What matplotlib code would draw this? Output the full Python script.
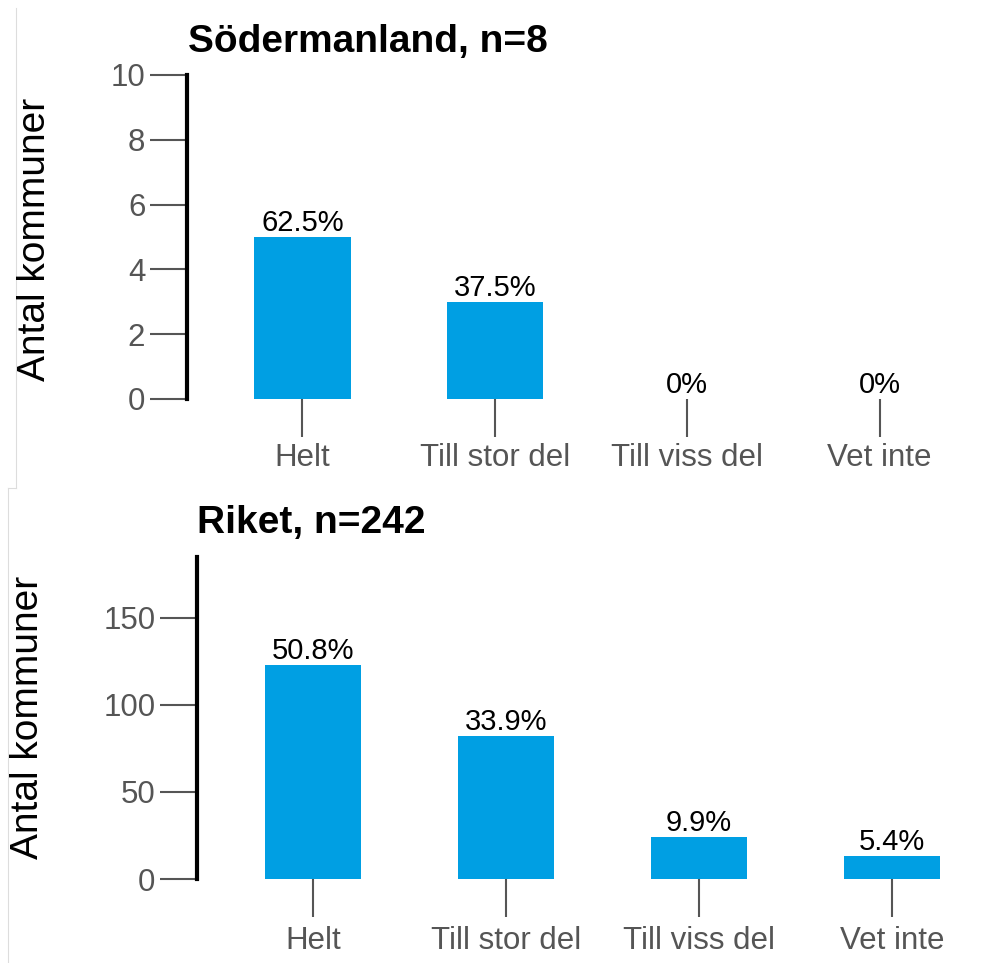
import matplotlib.pyplot as plt
from matplotlib.lines import Line2D

plt.rcParams['font.family'] = ['Liberation Sans', 'DejaVu Sans']

# data
categories = ['Helt', 'Till stor del', 'Till viss del', 'Vet inte']
sodermanland = [5, 3, 0, 0]
sodermanland_pct = ['62.5%', '37.5%', '0%', '0%']
riket = [123, 82, 24, 13]
riket_pct = ['50.8%', '33.9%', '9.9%', '5.4%']

W, H = 995, 963
fig = plt.figure(figsize=(W / 100, H / 100), dpi=100)

def px_axes(left, top, right, bottom):
    # pixel box -> figure fraction
    return fig.add_axes([left / W, 1 - bottom / H, (right - left) / W, (bottom - top) / H])

bar_color = '#009fe3'
grey = '#555555'

def draw_panel(ax, values, pcts, ymax, yticks):
    x = range(len(categories))
    ax.bar(x, values, width=0.5, color=bar_color)
    for xi, v, p in zip(x, values, pcts):
        ax.text(xi, v, p, ha='center', va='bottom', fontsize=21, color='black')
    ax.set_ylim(0, ymax)
    ax.set_xlim(-0.6, 3.6)
    ax.set_yticks(yticks)
    ax.set_xticks(list(x))
    ax.set_xticklabels(categories)
    for s in ['top', 'right', 'bottom']:
        ax.spines[s].set_visible(False)
    ax.spines['left'].set_linewidth(3)
    ax.spines['left'].set_color('black')
    ax.tick_params(axis='both', length=27, width=1.5, color=grey,
                   labelcolor=grey, labelsize=22.5, pad=3)
    ax.tick_params(axis='x', pad=5)
    ax.set_facecolor('none')

# top panel
ax1 = px_axes(187, 75, 995, 399)
draw_panel(ax1, sodermanland, sodermanland_pct, 10, [0, 2, 4, 6, 8, 10])
fig.text(188 / W, 1 - 52 / H, 'Södermanland, n=8', fontsize=28, fontweight='bold',
         ha='left', va='baseline')
fig.text(35 / W, 1 - 239 / H, 'Antal kommuner', fontsize=28, rotation=90,
         ha='center', va='center')

# bottom panel
ax2 = px_axes(197, 557, 995, 879)
draw_panel(ax2, riket, riket_pct, 185, [0, 50, 100, 150])
ax2.set_xlim(-0.6, 3.535)
ax2.tick_params(axis='x', pad=7)
fig.text(197 / W, 1 - 533 / H, 'Riket, n=242', fontsize=28, fontweight='bold',
         ha='left', va='baseline')
fig.text(28 / W, 1 - 717 / H, 'Antal kommuner', fontsize=28, rotation=90,
         ha='center', va='center')

# faint screenshot borders
border = '#dddddd'
fig.add_artist(Line2D([16 / W, 16 / W], [1 - 8 / H, 1 - 488 / H], color=border, lw=0.8))
fig.add_artist(Line2D([8 / W, 16 / W], [1 - 488 / H, 1 - 488 / H], color=border, lw=0.8))
fig.add_artist(Line2D([8 / W, 8 / W], [1 - 488 / H, 0], color=border, lw=0.8))

fig.savefig('out.png', dpi=100)
